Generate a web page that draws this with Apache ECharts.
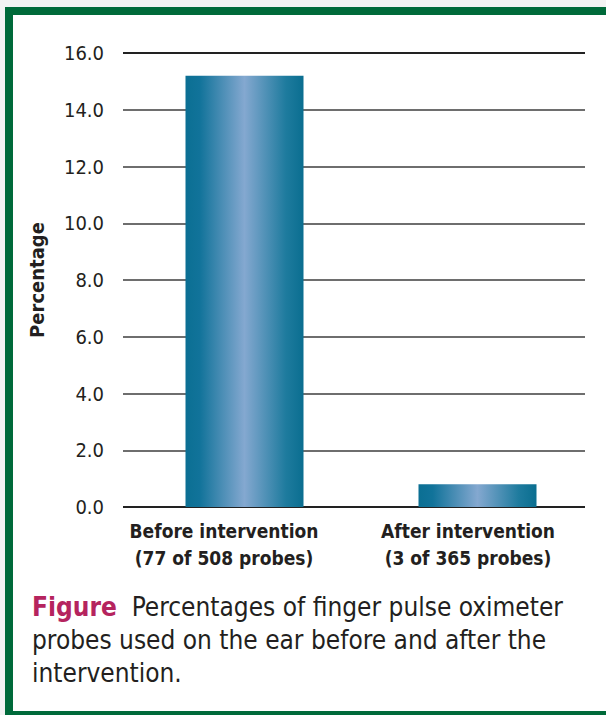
<!DOCTYPE html>
<html>
<head>
<meta charset="utf-8">
<script src="https://cdn.jsdelivr.net/npm/echarts@6/dist/echarts.min.js"></script>
<style>
  html, body { margin: 0; padding: 0; background: #fff; }
  #chart { width: 606px; height: 715px; }
</style>
</head>
<body>
<div id="chart"></div>
<script>
// data
var categories = ['Before intervention\n(77 of 508 probes)', 'After intervention\n(3 of 365 probes)'];
var percentages = [15.2, 0.8];
var yMin = 0, yMax = 16, yStep = 2;
var yTitle = 'Percentage';
var captionLead = 'Figure';
var captionLines = ['Percentages of finger pulse oximeter', 'probes used on the ear before and after the', 'intervention.'];

var FONT = '"DejaVu Sans Condensed", "Liberation Sans", sans-serif';
var GREEN = '#006a3a';

var barGradient = new echarts.graphic.LinearGradient(0, 0, 1, 0, [
    { offset: 0, color: '#0b6f93' },
    { offset: 0.12, color: '#11739a' },
    { offset: 0.5, color: '#84a8d0' },
    { offset: 0.85, color: '#1e7b9e' },
    { offset: 1, color: '#0a6e90' }
]);

// one colour per split line, bottom to top
var lineColors = ['#222', '#6e6e6e', '#6e6e6e', '#6e6e6e', '#6e6e6e', '#6e6e6e', '#6e6e6e', '#6e6e6e', '#222'];
var labelShift = ['a', 'b'];

var myChart = echarts.init(document.getElementById('chart'), null, { renderer: 'svg' });

myChart.setOption({
    backgroundColor: '#f3f3f3',
    animation: false,
    graphic: [
        {
            type: 'rect',
            z: -10,
            shape: { x: 9, y: 11, width: 620, height: 704 },
            style: { fill: '#fff', stroke: GREEN, lineWidth: 8 }
        }
    ],
    title: {
        left: 32,
        top: 590,
        padding: 0,
        text: '{f|' + captionLead + '}  ' + captionLines.join('\n'),
        textStyle: {
            fontFamily: FONT,
            fontSize: 26,
            fontWeight: 'normal',
            color: '#231f20',
            lineHeight: 33,
            rich: {
                f: { fontFamily: FONT, fontSize: 26, fontWeight: 'bold', color: '#b5245e', lineHeight: 33 }
            }
        }
    },
    grid: [
        { left: 123, right: 21, top: 53, bottom: 208 },
        { left: 128, width: 466, top: 53, bottom: 208 }
    ],
    xAxis: [
        {
            type: 'category',
            gridIndex: 0,
            data: categories,
            axisLine: { show: false },
            axisTick: { show: false },
            axisLabel: {
                margin: 10,
                interval: 0,
                fontFamily: FONT,
                fontSize: 19,
                fontWeight: 'bold',
                color: '#231f20',
                lineHeight: 27,
                formatter: function (v, i) {
                    return v.split('\n').map(function (l) {
                        return '{' + labelShift[i] + '|' + l + '}';
                    }).join('\n');
                },
                rich: {
                    a: { fontFamily: FONT, fontSize: 19, fontWeight: 'bold', color: '#231f20', lineHeight: 27, padding: [0, 29, 0, 0] },
                    b: { fontFamily: FONT, fontSize: 19, fontWeight: 'bold', color: '#231f20', lineHeight: 27, padding: [0, 3, 0, 0] }
                }
            }
        },
        {
            type: 'category',
            gridIndex: 1,
            data: categories,
            show: false
        }
    ],
    yAxis: [
        {
            type: 'value',
            gridIndex: 0,
            min: yMin,
            max: yMax,
            interval: yStep,
            name: yTitle,
            nameLocation: 'middle',
            nameGap: 76,
            nameTextStyle: { fontFamily: FONT, fontSize: 20, fontWeight: 'bold', color: '#231f20' },
            axisLine: { show: false },
            axisTick: { show: false },
            axisLabel: {
                margin: 19,
                fontFamily: FONT,
                fontSize: 20,
                color: '#231f20',
                formatter: function (v) { return v.toFixed(1); }
            },
            splitLine: { show: true, lineStyle: { color: lineColors, width: 2 } }
        },
        {
            type: 'value',
            gridIndex: 1,
            min: yMin,
            max: yMax,
            interval: yStep,
            show: false,
            splitLine: { show: false }
        }
    ],
    series: [
        {
            type: 'bar',
            xAxisIndex: 1,
            yAxisIndex: 1,
            data: percentages,
            barWidth: 118,
            itemStyle: { color: barGradient },
            z: 5
        }
    ]
});
</script>
</body>
</html>
